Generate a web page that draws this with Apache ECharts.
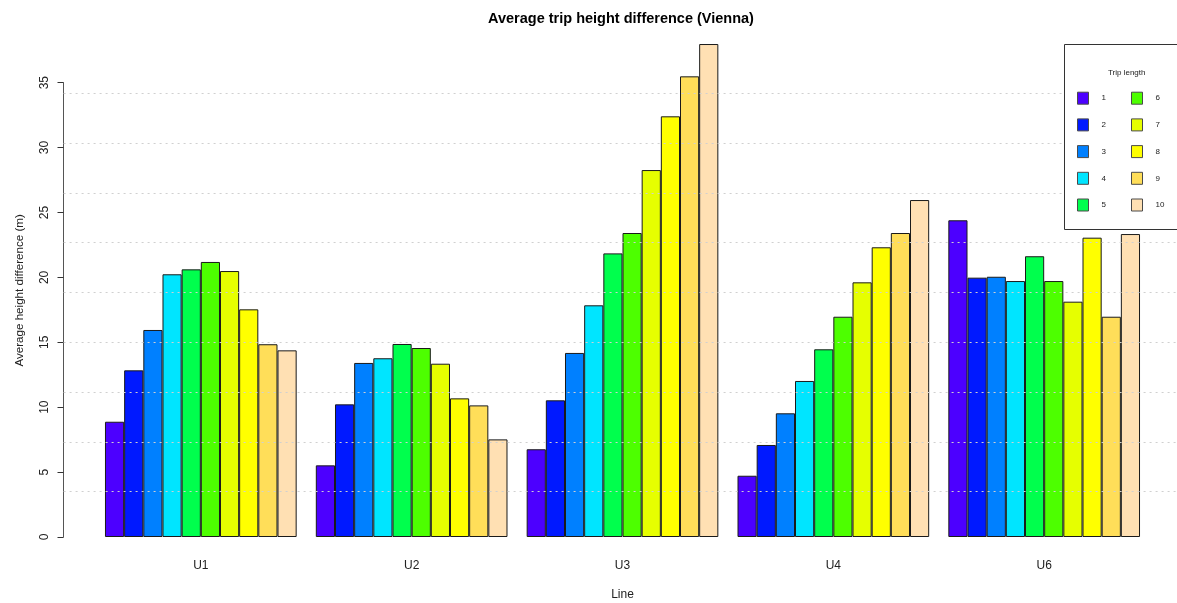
<!DOCTYPE html>
<html>
<head>
<meta charset="utf-8">
<script src="https://cdn.jsdelivr.net/npm/echarts@6/dist/echarts.min.js"></script>
<style>
  html, body { margin: 0; padding: 0; background: #fff; }
  #chart { width: 1177px; height: 603px; }
</style>
</head>
<body>
<div id="chart"></div>
<script>
// Subway lines (groups) and trip lengths (bars inside each group)
const lines = ['U1', 'U2', 'U3', 'U4', 'U6'];
const tripLengths = ['1', '2', '3', '4', '5', '6', '7', '8', '9', '10'];

// Average height difference (m) per trip length, one array per line
const heightU1 = [8.88, 12.84, 15.95, 20.24, 20.62, 21.19, 20.49, 17.54, 14.85, 14.38];
const heightU2 = [5.52, 10.22, 13.41, 13.77, 14.87, 14.56, 13.35, 10.68, 10.14, 7.52];
const heightU3 = [6.76, 10.53, 14.18, 17.85, 21.85, 23.42, 28.27, 32.41, 35.49, 37.98];
const heightU4 = [4.72, 7.09, 9.53, 12.02, 14.46, 16.97, 19.62, 22.32, 23.42, 25.96];
const heightU6 = [24.40, 19.98, 20.05, 19.72, 21.63, 19.72, 18.13, 23.06, 16.97, 23.34];

// Y axis tick labels
const yTicks = [0, 5, 10, 15, 20, 25, 30, 35];

// topo.colors(10)
const palette = ['#4C00FF', '#0019FF', '#0080FF', '#00E5FF', '#00FF4D',
                 '#4DFF00', '#E6FF00', '#FFFF00', '#FFDE59', '#FFE0B3'];

const byLine = [heightU1, heightU2, heightU3, heightU4, heightU6];

// Plot geometry (pixels)
const H = 603;
const zeroY = 537;          // pixel row of value 0
const pxPerUnit = 12.98;    // pixels per metre
const plotMax = 38;         // top of the plot region in data units
const gridTop = zeroY - plotMax * pxPerUnit;
const FONT = '"Liberation Sans", Arial, Helvetica, sans-serif';

const series = tripLengths.map((t, i) => ({
  name: t,
  type: 'bar',
  xAxisIndex: 0,
  yAxisIndex: 0,
  data: byLine.map(arr => arr[i]),
  barGap: '0%',
  barCategoryGap: (100 / 11) + '%',
  itemStyle: { color: palette[i], borderColor: '#1a1a1a', borderWidth: 1 },
  emphasis: { disabled: true },
  animation: false
}));

const legendBase = {
  orient: 'vertical',
  icon: 'rect',
  itemWidth: 11,
  itemHeight: 12,
  itemGap: 13.7,
  padding: 0,
  selectedMode: false,
  zlevel: 1,
  z: 10,
  itemStyle: { borderWidth: 1, borderColor: '#4a4a4a' },
  textStyle: { fontSize: 8, color: '#222', fontFamily: FONT, padding: [0, 0, 0, 8] }
};

const option = {
  animation: false,
  backgroundColor: '#fff',
  color: palette,
  title: [
    {
      text: 'Average trip height difference (Vienna)',
      left: 616, top: 6, textAlign: 'center',
      textStyle: { fontSize: 14.5, fontWeight: 'bold', color: '#000', fontFamily: FONT }
    },
    {
      text: 'Trip length',
      left: 1121.7, top: 64, textAlign: 'center', zlevel: 1, z: 10,
      textStyle: { fontSize: 8, fontWeight: 'normal', color: '#222', fontFamily: FONT }
    }
  ],
  grid: [
    // bars
    { left: 95.4, right: 1177 - 1149.6, top: gridTop, bottom: H - zeroY,
      containLabel: false, outerBoundsMode: 'none' },
    // y axis with ticks 0..35
    { left: 63.5, width: 1, top: zeroY - 35 * pxPerUnit, bottom: H - zeroY,
      containLabel: false, outerBoundsMode: 'none' },
    // dotted reference grid (10 equal divisions of the plot height)
    { left: 63.6, right: -6, top: 43.5, bottom: H - 541.5,
      containLabel: false, outerBoundsMode: 'none' }
  ],
  xAxis: [
    {
      type: 'category', gridIndex: 0, data: lines,
      name: 'Line', nameLocation: 'middle', nameGap: 52,
      nameTextStyle: { fontSize: 12, color: '#222', fontFamily: FONT },
      axisLine: { show: false }, axisTick: { show: false },
      axisLabel: { margin: 23, fontSize: 12, color: '#222', fontFamily: FONT },
      splitLine: { show: false }
    },
    { type: 'value', gridIndex: 1, show: false },
    { type: 'value', gridIndex: 2, show: false }
  ],
  yAxis: [
    {
      // carries the axis title, centred on the full plot height
      type: 'value', gridIndex: 0, min: 0, max: plotMax,
      name: 'Average height difference (m)', nameLocation: 'middle', nameGap: 70,
      nameTextStyle: { fontSize: 11.6, color: '#222', fontFamily: FONT },
      axisLine: { show: false }, axisTick: { show: false }, axisLabel: { show: false },
      splitLine: { show: false }
    },
    {
      type: 'value', gridIndex: 1, min: 0, max: 35, interval: 5,
      axisLine: { show: true, lineStyle: { color: '#555', width: 1 } },
      axisTick: { show: true, length: 6, customValues: yTicks, lineStyle: { color: '#333' } },
      axisLabel: { show: true, rotate: 90, margin: 13, fontSize: 12, color: '#222',
                   fontFamily: FONT, customValues: yTicks },
      splitLine: { show: false }
    },
    {
      // drawn on its own layer so the dotted lines run over the bars
      type: 'value', gridIndex: 2, min: 0, max: 10, interval: 1, zlevel: 1, z: 1,
      axisLine: { show: false }, axisTick: { show: false }, axisLabel: { show: false },
      splitLine: { show: true, showMinLine: false, showMaxLine: false,
                   lineStyle: { color: '#d0d0d0', width: 1, type: [2, 4] } }
    }
  ],
  legend: [
    Object.assign({}, legendBase, { data: tripLengths.slice(0, 5), left: 1077, top: 91.7 }),
    Object.assign({}, legendBase, { data: tripLengths.slice(5), left: 1131, top: 91.7 })
  ],
  graphic: [
    {
      type: 'rect', zlevel: 1, z: 8,
      shape: { x: 1064.5, y: 44.5, width: 200, height: 185 },
      style: { fill: '#fff', stroke: '#333', lineWidth: 1 }
    }
  ],
  series: series
};

const chart = echarts.init(document.getElementById('chart'), null, { renderer: 'canvas' });
chart.setOption(option);
</script>
</body>
</html>
